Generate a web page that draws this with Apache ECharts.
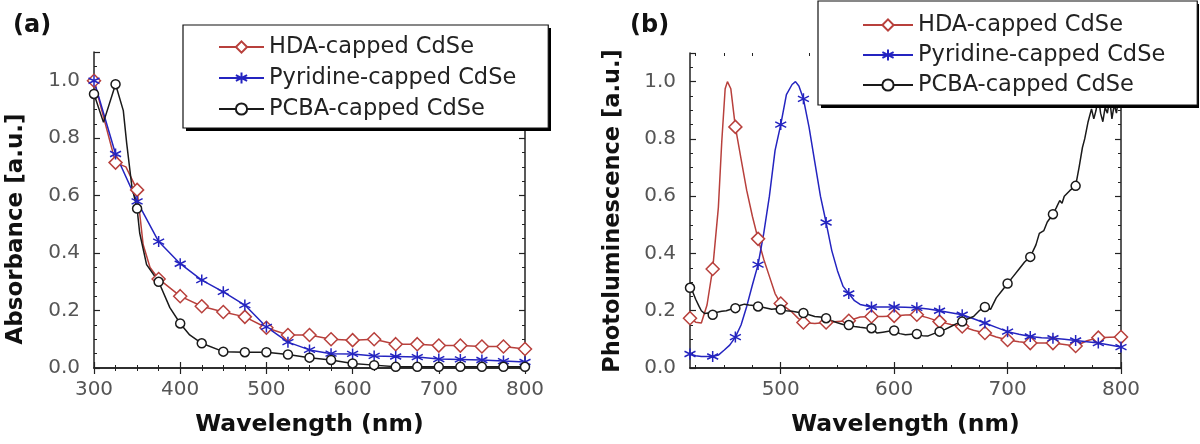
<!DOCTYPE html>
<html><head><meta charset="utf-8">
<script src="https://cdn.jsdelivr.net/npm/echarts@6/dist/echarts.min.js"></script>
<style>html,body{margin:0;padding:0;background:#fff}#c{width:1200px;height:444px}</style>
</head><body><div id="c"></div>
<script>
// ---------- names ----------
const seriesNames = ['HDA-capped CdSe', 'Pyridine-capped CdSe', 'PCBA-capped CdSe'];
const panelLabels = ['(a)', '(b)'];
const xTitle = 'Wavelength (nm)';
const yTitleA = 'Absorbance [a.u.]';
const yTitleB = 'Photoluminescence [a.u.]';

// ---------- ticks ----------
const xTicksA = [300, 400, 500, 600, 700, 800];
const xTicksB = [500, 600, 700, 800];
const xMinorB = [425, 450, 475, 525, 550, 575, 625, 650, 675, 725, 750, 775];

// ---------- (a) absorbance ----------
const hdaAbsX = [300,325,337,350,357,365,375,400,425,450,475,500,525,550,575,600,625,650,675,700,725,750,775,800];
const hdaAbsY = [1.00,0.715,0.70,0.62,0.43,0.35,0.31,0.25,0.215,0.195,0.178,0.14,0.115,0.115,0.10,0.097,0.10,0.083,0.083,0.078,0.078,0.075,0.075,0.066];
const pyrAbsX = [300,325,350,375,400,425,450,475,500,525,550,575,600,625,650,675,700,725,750,775,800];
const pyrAbsY = [1.00,0.745,0.58,0.44,0.363,0.306,0.265,0.219,0.143,0.09,0.063,0.05,0.049,0.042,0.04,0.038,0.031,0.03,0.028,0.024,0.021];
const pcbaAbsX = [300,311,325,334,338,344,350,353,361,375,388,400,411,425,450,475,500,525,550,575,600,625,650,675,700,725,750,775,800];
const pcbaAbsY = [0.954,0.855,0.988,0.896,0.78,0.63,0.555,0.47,0.36,0.30,0.21,0.155,0.115,0.086,0.057,0.055,0.055,0.047,0.036,0.028,0.016,0.01,0.004,0.004,0.004,0.004,0.004,0.004,0.004];

// ---------- (b) photoluminescence ----------
const hdaPLX = [420,425,430,435,440,445,448,451,453,456,460,465,470,475,480,485,490,495,500,505,510,515,520,530,540,550,560,570,580,590,600,610,620,630,640,650,660,670,680,690,700,710,720,730,740,750,760,770,780,790,800];
const hdaPLY = [0.174,0.16,0.157,0.22,0.346,0.56,0.79,0.975,1.0,0.975,0.842,0.73,0.62,0.53,0.451,0.38,0.32,0.26,0.225,0.21,0.195,0.175,0.159,0.155,0.159,0.162,0.165,0.178,0.18,0.18,0.182,0.185,0.186,0.175,0.162,0.152,0.145,0.132,0.122,0.108,0.098,0.092,0.087,0.087,0.087,0.082,0.077,0.095,0.106,0.107,0.108];
const pyrPLX = [420,425,430,440,445,450,455,460,465,470,475,480,485,490,495,500,505,510,513,516,520,525,530,535,540,545,550,555,560,565,570,580,590,600,610,620,630,640,650,660,670,680,690,700,710,720,730,740,750,760,770,780,790,800];
const pyrPLY = [0.049,0.043,0.04,0.04,0.045,0.062,0.08,0.108,0.15,0.215,0.29,0.361,0.47,0.6,0.76,0.85,0.955,0.99,1.0,0.985,0.94,0.84,0.72,0.6,0.508,0.41,0.34,0.285,0.26,0.235,0.222,0.213,0.213,0.213,0.212,0.21,0.206,0.2,0.193,0.186,0.172,0.157,0.142,0.127,0.118,0.11,0.106,0.104,0.1,0.096,0.092,0.087,0.08,0.073];
const pcbaPLX = [420,422,425,428,430,433,436,440,444,448,452,456,460,464,468,472,476,480,484,488,492,496,500,505,510,515,520,525,530,535,540,545,550,555,560,565,570,575,580,585,590,595,600,605,610,615,620,625,630,635,640,645,650,655,660,665,670,675,680,685,690,695,700,705,710,715,720,725,728,732,735,740,743,746,748,750,755,760,763,766,768,771,774,776,778,780,782,784,786,788,790,792,794,796,798,800];
const pcbaPLY = [0.28,0.27,0.24,0.215,0.2,0.19,0.192,0.186,0.195,0.198,0.2,0.205,0.209,0.218,0.223,0.22,0.218,0.215,0.212,0.209,0.205,0.207,0.204,0.2,0.198,0.195,0.192,0.186,0.18,0.178,0.174,0.165,0.158,0.152,0.15,0.145,0.142,0.14,0.139,0.122,0.125,0.128,0.131,0.12,0.116,0.118,0.119,0.113,0.112,0.12,0.127,0.135,0.145,0.155,0.162,0.172,0.18,0.2,0.213,0.205,0.245,0.27,0.295,0.32,0.345,0.37,0.388,0.43,0.47,0.48,0.51,0.537,0.56,0.585,0.575,0.6,0.62,0.636,0.7,0.77,0.8,0.86,0.905,0.87,0.9,0.95,0.89,0.86,0.91,0.89,0.94,0.87,0.92,0.89,0.95,0.95];

// ---------- styles ----------
const RED = '#b8403c', BLUE = '#2424c0', BLACK = '#1a1a1a';
const FONT = 'DejaVu Sans';
const STAR = 'path://M0,-10L0,10M-8.66,-5L8.66,5M-8.66,5L8.66,-5';

function buildData(xs, ys, step) {
  return xs.map((x, i) => (x % step === 0) ? [x, ys[i]] : { value: [x, ys[i]], symbol: 'none' });
}
function mkSeries(name, xs, ys, step, sym, size, color, fill, axis) {
  return {
    type: 'line', name: name, xAxisIndex: axis.x, yAxisIndex: axis.y,
    data: buildData(xs, ys, step), symbol: sym, symbolSize: size, showAllSymbol: true,
    lineStyle: { color: color, width: 1.5 },
    itemStyle: { color: fill, borderColor: color, borderWidth: 1.5 },
    emphasis: { disabled: true }, animation: false, clip: true
  };
}

const axLine = { show: true, lineStyle: { color: '#222', width: 1.5 } };
const labelStyle = { color: '#555', fontFamily: FONT, fontSize: 20 };
const nameStyle = { color: '#111', fontFamily: FONT, fontSize: 23.5, fontWeight: 'bold' };

function yAx(grid, pos, showLabel) {
  return {
    type: 'value', gridIndex: grid, position: pos, min: 0, max: 1.1, interval: 0.2,
    axisLine: axLine, splitLine: { show: false },
    axisTick: { show: true, inside: true, length: 6, lineStyle: { color: '#222', width: 1.2 } },
    minorTick: { show: true, splitNumber: 4, length: 3, lineStyle: { color: '#222', width: 1 } },
    axisLabel: { show: showLabel, showMaxLabel: false, margin: 14, formatter: v => v.toFixed(1), ...labelStyle }
  };
}

const xAxes = [
  { type: 'value', gridIndex: 0, position: 'bottom', min: 300, max: 800, interval: 100,
    axisLine: axLine, splitLine: { show: false },
    axisTick: { show: true, inside: true, length: 6, lineStyle: { color: '#222', width: 1.2 } },
    minorTick: { show: true, splitNumber: 4, length: 3, lineStyle: { color: '#222', width: 1 } },
    axisLabel: { margin: 12, customValues: xTicksA, ...labelStyle },
    name: xTitle, nameLocation: 'middle', nameGap: 45, nameTextStyle: nameStyle },
  { type: 'value', gridIndex: 0, position: 'top', min: 300, max: 800, interval: 100,
    axisLine: axLine, splitLine: { show: false },
    axisTick: { show: true, inside: true, length: 6, lineStyle: { color: '#222', width: 1.2 } },
    minorTick: { show: true, splitNumber: 4, length: 3, lineStyle: { color: '#222', width: 1 } },
    axisLabel: { show: false } },
  { type: 'value', gridIndex: 1, position: 'bottom', min: 420, max: 800,
    axisLine: axLine, splitLine: { show: false },
    axisTick: { show: true, inside: true, length: 6, customValues: xTicksB, lineStyle: { color: '#222', width: 1.2 } },
    axisLabel: { margin: 12, customValues: xTicksB, ...labelStyle },
    name: xTitle, nameLocation: 'middle', nameGap: 45, nameTextStyle: nameStyle },
  { type: 'value', gridIndex: 1, position: 'top', min: 420, max: 800,
    axisLine: axLine, splitLine: { show: false },
    axisTick: { show: true, inside: true, length: 6, customValues: xTicksB, lineStyle: { color: '#222', width: 1.2 } },
    axisLabel: { show: false } },
  { type: 'value', gridIndex: 1, position: 'bottom', min: 420, max: 800,
    axisLine: { show: false }, splitLine: { show: false },
    axisTick: { show: true, inside: true, length: 3, customValues: xMinorB, lineStyle: { color: '#222', width: 1 } },
    axisLabel: { show: false } },
  { type: 'value', gridIndex: 1, position: 'top', min: 420, max: 800,
    axisLine: { show: false }, splitLine: { show: false },
    axisTick: { show: true, inside: true, length: 3, customValues: xMinorB, lineStyle: { color: '#222', width: 1 } },
    axisLabel: { show: false } }
];
const yAxes = [yAx(0, 'left', true), yAx(0, 'right', false), yAx(1, 'left', true), yAx(1, 'right', false)];

const A = { x: 0, y: 0 }, B = { x: 2, y: 2 };
const series = [
  mkSeries(seriesNames[0], hdaAbsX, hdaAbsY, 25, 'diamond', 13, RED, '#fff', A),
  mkSeries(seriesNames[1], pyrAbsX, pyrAbsY, 25, STAR, 11, BLUE, BLUE, A),
  mkSeries(seriesNames[2], pcbaAbsX, pcbaAbsY, 25, 'circle', 9, BLACK, '#fff', A),
  mkSeries(seriesNames[0], hdaPLX, hdaPLY, 20, 'diamond', 13, RED, '#fff', B),
  mkSeries(seriesNames[1], pyrPLX, pyrPLY, 20, STAR, 11, BLUE, BLUE, B),
  mkSeries(seriesNames[2], pcbaPLX, pcbaPLY, 20, 'circle', 9, BLACK, '#fff', B)
];

const legendBase = {
  orient: 'vertical', data: seriesNames, selectedMode: false, z: 5,
  backgroundColor: '#fff', borderColor: '#111', borderWidth: 1.2,
  itemHeight: 14,
  textStyle: { color: '#222', fontFamily: FONT, fontSize: 22.5, lineHeight: 24 }
};

const option = {
  backgroundColor: '#fff',
  animation: false,
  title: [
    { text: panelLabels[0], left: 13, top: 14, padding: 0, textStyle: { fontFamily: FONT, fontWeight: 'bold', fontSize: 24, color: '#111' } },
    { text: panelLabels[1], left: 630, top: 14, padding: 0, textStyle: { fontFamily: FONT, fontWeight: 'bold', fontSize: 24, color: '#111' } }
  ],
  grid: [
    { left: 94, top: 52, width: 431, height: 316, containLabel: false },
    { left: 690, top: 53, width: 431, height: 315, containLabel: false }
  ],
  legend: [
    Object.assign({}, legendBase, { left: 183, top: 25, padding: [10, 32, 7, 35], itemGap: 7, itemWidth: 45 }),
    Object.assign({}, legendBase, { left: 818, top: 1, padding: [12, 32, 8, 44], itemGap: 6, itemWidth: 50 })
  ],
  graphic: [
    { type: 'rect', z: 4, shape: { x: 186, y: 28, width: 365, height: 103 }, style: { fill: '#000' } },
    { type: 'rect', z: 4, shape: { x: 821, y: 4, width: 378, height: 104 }, style: { fill: '#000' } },
    { type: 'text', x: 16, y: 229, rotation: Math.PI / 2,
      style: { text: yTitleA, font: 'bold 23px "DejaVu Sans"', fill: '#111', align: 'center', verticalAlign: 'middle', textAlign: 'center', textVerticalAlign: 'middle' } },
    { type: 'text', x: 613, y: 211, rotation: Math.PI / 2,
      style: { text: yTitleB, font: 'bold 22.5px "DejaVu Sans"', fill: '#111', align: 'center', verticalAlign: 'middle', textAlign: 'center', textVerticalAlign: 'middle' } }
  ],
  xAxis: xAxes,
  yAxis: yAxes,
  series: series
};

const chart = echarts.init(document.getElementById('c'), null, { renderer: 'canvas' });
chart.setOption(option);
</script>
</body></html>
